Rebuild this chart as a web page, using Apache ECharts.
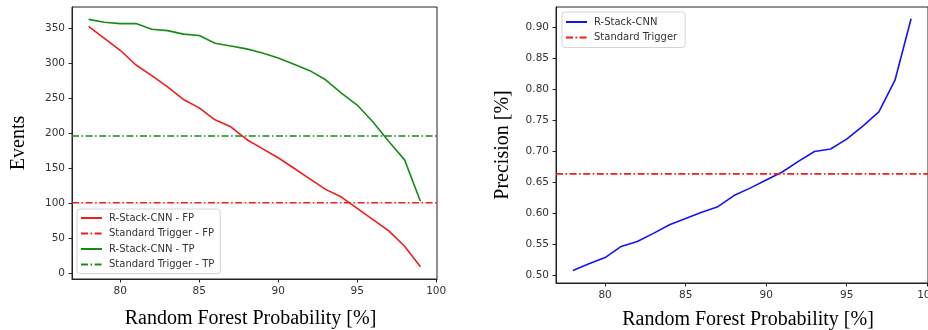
<!DOCTYPE html>
<html>
<head>
<meta charset="utf-8">
<script src="https://cdn.jsdelivr.net/npm/echarts@6/dist/echarts.min.js"></script>
<style>
  html, body { margin: 0; padding: 0; background: #fff; }
  #chart { width: 928px; height: 330px; }
</style>
</head>
<body>
<div id="chart"></div>
<script>
// x positions (random forest probability, %)
const probs = [78, 79, 80, 81, 82, 83, 84, 85, 86, 87, 88, 89, 90, 91, 92, 93, 94, 95, 96, 97, 98, 99];

// left panel: events
const fpEvents = [352, 335, 318, 297, 282, 266, 248, 236, 219, 209, 191, 178, 165, 150, 135, 120, 109, 93, 77, 61, 39, 10];
const tpEvents = [362, 358, 356, 356, 348, 346, 341, 339, 328, 324, 320, 314, 307, 298, 289, 276, 257, 240, 216, 188, 162, 103];
const fpTrigger = 101;
const tpTrigger = 196;

// right panel: precision
const precision = [0.507, 0.518, 0.528, 0.546, 0.554, 0.567, 0.581, 0.591, 0.601, 0.610, 0.628, 0.640, 0.653, 0.666, 0.683, 0.699, 0.703, 0.719, 0.740, 0.763, 0.814, 0.913];
const precTrigger = 0.663;

const xTicks = [80, 85, 90, 95, 100];
const eventTicks = [0, 50, 100, 150, 200, 250, 300, 350];
const precTicks = [0.5, 0.55, 0.6, 0.65, 0.7, 0.75, 0.8, 0.85, 0.9];

const xMin = 76.95;
const xMax = 100.05;

const RED = "#f01c1c";
const GREEN = "#168c16";
const BLUE = "#1414f0";
const DASHDOT = [7, 2.5, 1.6, 2.5];

const tickFont = { fontFamily: "DejaVu Sans", fontSize: 10.5, color: "#333" };
const titleFont = { fontFamily: "Liberation Serif", fontSize: 20, color: "#000" };

function pairs(xs, ys) {
  return xs.map((x, i) => [x, ys[i]]);
}

function flat(y) {
  return [[xMin, y], [xMax, y]];
}

function xAxisFor(gridIndex, nameGap, namePad) {
  return {
    type: "value",
    gridIndex,
    min: xMin,
    max: xMax,
    name: "Random Forest Probability [%]",
    nameLocation: "middle",
    nameGap,
    nameTextStyle: { ...titleFont, padding: namePad },
    axisLine: { onZero: false, lineStyle: { color: "#222", width: 1 } },
    axisTick: { customValues: xTicks, length: 3.5, lineStyle: { color: "#222" } },
    axisLabel: { ...tickFont, customValues: xTicks, margin: 7 },
    splitLine: { show: false },
  };
}

function yAxisFor(gridIndex, min, max, ticks, name, nameGap, fmt) {
  return {
    type: "value",
    gridIndex,
    min,
    max,
    name,
    nameLocation: "middle",
    nameGap,
    nameTextStyle: titleFont,
    axisLine: { show: true, onZero: false, lineStyle: { color: "#222", width: 1 } },
    axisTick: { show: true, customValues: ticks, length: 3.5, lineStyle: { color: "#222" } },
    axisLabel: { ...tickFont, customValues: ticks, margin: 7, formatter: fmt },
    splitLine: { show: false },
  };
}

function lineSeries(name, data, color, dashed, xi) {
  return {
    name,
    type: "line",
    xAxisIndex: xi,
    yAxisIndex: xi,
    data,
    symbol: "none",
    silent: true,
    animation: false,
    lineStyle: { color, width: 1.6, type: dashed ? DASHDOT : "solid" },
    itemStyle: { color },
  };
}

const legendBase = {
  orient: "vertical",
  backgroundColor: "rgba(255,255,255,0.85)",
  borderColor: "#d4d4d4",
  borderWidth: 1,
  borderRadius: 3,
  itemWidth: 21,
  itemHeight: 11,
  itemGap: 5.5,
  itemStyle: { opacity: 0 },
  textStyle: { fontFamily: "DejaVu Sans", fontSize: 10, color: "#333", padding: [0, 0, 0, 2] },
};

const chart = echarts.init(document.getElementById("chart"), null, { renderer: "canvas" });

chart.setOption({
  backgroundColor: "#fff",
  animation: false,
  grid: [
    { left: 72, top: 7, width: 365, height: 272, show: true, borderColor: "#222", borderWidth: 1, outerBoundsMode: "none" },
    { left: 556, top: 7, width: 372, height: 276, show: true, borderColor: "#222", borderWidth: 1, outerBoundsMode: "none" },
  ],
  xAxis: [xAxisFor(0, 30, [0, 8, 0, 0]), xAxisFor(1, 27, [0, 0, 0, 12])],
  yAxis: [
    yAxisFor(0, -7.6, 379.6, eventTicks, "Events", 43, (v) => String(v)),
    yAxisFor(1, 0.487, 0.932, precTicks, "Precision [%]", 43, (v) => v.toFixed(2)),
  ],
  legend: [
    {
      ...legendBase,
      left: 77,
      top: 209,
      padding: [4, 6, 4, 3],
      data: ["R-Stack-CNN - FP", "Standard Trigger - FP", "R-Stack-CNN - TP", "Standard Trigger - TP"],
    },
    {
      ...legendBase,
      left: 562,
      top: 12,
      padding: [5, 8, 5, 3],
      data: ["R-Stack-CNN", "Standard Trigger"],
    },
  ],
  series: [
    lineSeries("R-Stack-CNN - FP", pairs(probs, fpEvents), RED, false, 0),
    lineSeries("Standard Trigger - FP", flat(fpTrigger), RED, true, 0),
    lineSeries("R-Stack-CNN - TP", pairs(probs, tpEvents), GREEN, false, 0),
    lineSeries("Standard Trigger - TP", flat(tpTrigger), GREEN, true, 0),
    lineSeries("R-Stack-CNN", pairs(probs, precision), BLUE, false, 1),
    lineSeries("Standard Trigger", flat(precTrigger), RED, true, 1),
  ],
});
</script>
</body>
</html>
